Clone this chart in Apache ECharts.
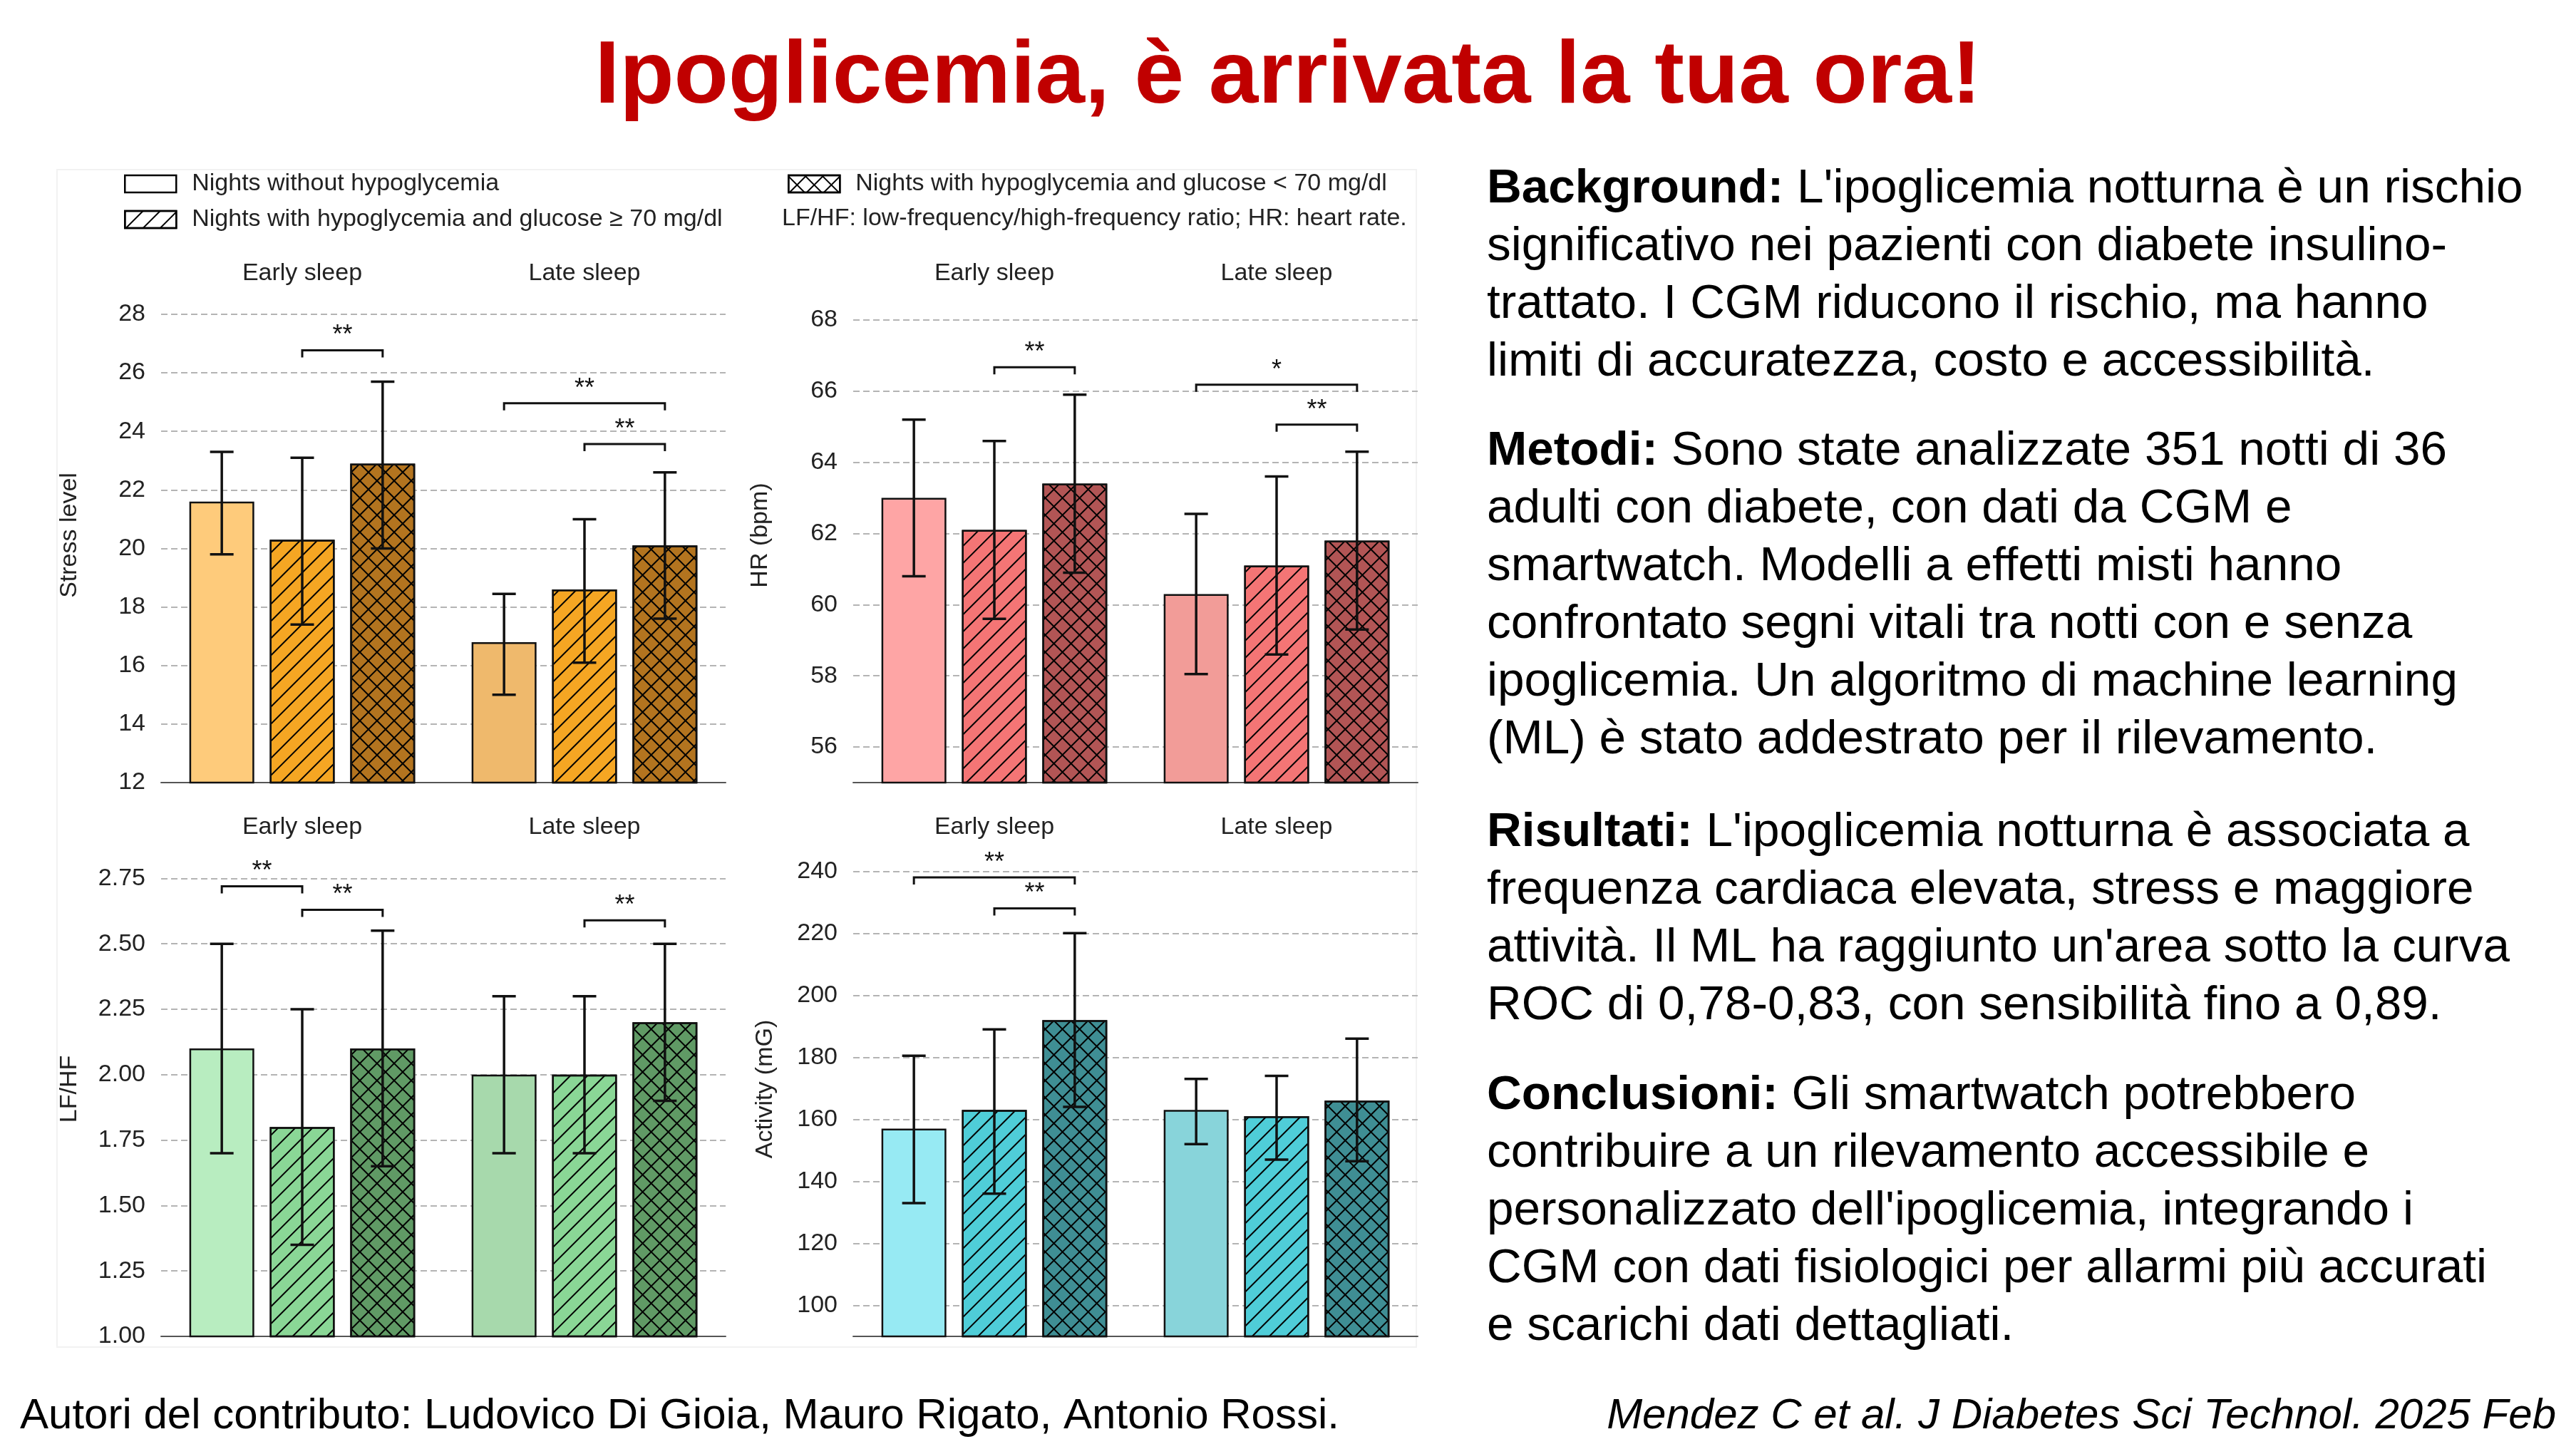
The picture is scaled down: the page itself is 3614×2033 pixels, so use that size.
<!DOCTYPE html>
<html><head><meta charset="utf-8">
<script src="https://cdn.jsdelivr.net/npm/echarts@6/dist/echarts.min.js"></script>
<style>html,body{margin:0;padding:0;background:#fff}#c{width:3614px;height:2033px}</style>
</head><body><div id="c"></div>
<script>
// ---------------- DATA ----------------
const categories = ['Early sleep', 'Late sleep'];
const groupNames = ['Nights without hypoglycemia', 'Nights with hypoglycemia and glucose \u2265 70 mg/dl', 'Nights with hypoglycemia and glucose < 70 mg/dl'];

// [group][category]
const stressMean = [[21.6, 16.8], [20.3, 18.6], [22.9, 20.1]];
const stressLow  = [[19.8, 15.0], [17.4, 16.1], [20.0, 17.6]];
const stressHigh = [[23.3, 18.45], [23.1, 21.0], [25.7, 22.6]];
const stressSig  = [[0, 1, 2, 26.77, '**'], [1, 0, 2, 24.96, '**'], [1, 1, 2, 23.57, '**']];
const stressTicks = [12, 14, 16, 18, 20, 22, 24, 26, 28];

const hrMean = [[63.0, 60.3], [62.1, 61.1], [63.4, 61.8]];
const hrLow  = [[60.8, 58.05], [59.6, 58.6], [60.9, 59.3]];
const hrHigh = [[65.2, 62.55], [64.6, 63.6], [65.9, 64.3]];
const hrSig  = [[0, 1, 2, 66.67, '**'], [1, 0, 2, 66.18, '*'], [1, 1, 2, 65.06, '**']];
const hrTicks = [56, 58, 60, 62, 64, 66, 68];

const lfMean = [[2.10, 2.00], [1.80, 2.00], [2.10, 2.20]];
const lfLow  = [[1.70, 1.70], [1.35, 1.70], [1.65, 1.90]];
const lfHigh = [[2.50, 2.30], [2.25, 2.30], [2.55, 2.50]];
const lfSig  = [[0, 0, 1, 2.72, '**'], [0, 1, 2, 2.63, '**'], [1, 1, 2, 2.59, '**']];
const lfTicks = [1.00, 1.25, 1.50, 1.75, 2.00, 2.25, 2.50, 2.75];

const actMean = [[157, 163], [163, 161], [192, 166]];
const actLow  = [[133, 152], [136, 147], [164, 146.5]];
const actHigh = [[180.5, 173], [189, 174], [220, 186]];
const actSig  = [[0, 0, 2, 238, '**'], [0, 1, 2, 228, '**']];
const actTicks = [100, 120, 140, 160, 180, 200, 220, 240];

// ---------------- STYLE ----------------
const FF = 'Liberation Sans, Arial, Helvetica, sans-serif';
const BAR_W = 91, BAR_GAP = 0.24, STEP = BAR_W * (1 + BAR_GAP);
const stressColors = [['#FECB7B', '#EFB96C'], ['#F5A623', '#F5A623'], ['#B3741F', '#B3741F']];
const hrColors     = [['#FEA5A5', '#F29C98'], ['#F47575', '#F47575'], ['#B25555', '#B25555']];
const lfColors     = [['#B8EDC0', '#A7D9AC'], ['#8AD796', '#8AD796'], ['#609A65', '#609A65']];
const actColors    = [['#97EAF3', '#88D4DA'], ['#4FCDD8', '#4FCDD8'], ['#3F8E94', '#3F8E94']];

const decalDiag  = {symbol: 'rect', symbolSize: 1, dashArrayX: [2, 15], dashArrayY: [1, 0], rotation: Math.PI / 4, color: '#000'};
const decalCross = {symbol: 'rect', symbolSize: 1, dashArrayX: [[1, 0], [2, 15]], dashArrayY: [2, 0, 15, 0], rotation: Math.PI / 4, color: '#000'};
const decals = [null, decalDiag, decalCross];

const panels = [
  {mean: stressMean, low: stressLow, high: stressHigh, sig: stressSig, ticks: stressTicks, min: 12, max: 28.9, name: 'Stress level', nameGap: 111, colors: stressColors, left: 226, top: 404, fmt: v => String(v)},
  {mean: hrMean, low: hrLow, high: hrHigh, sig: hrSig, ticks: hrTicks, min: 55, max: 68.9, name: 'HR (bpm)', nameGap: 113, colors: hrColors, left: 1197, top: 404, fmt: v => String(v)},
  {mean: lfMean, low: lfLow, high: lfHigh, sig: lfSig, ticks: lfTicks, min: 1, max: 2.89, name: 'LF/HF', nameGap: 111, colors: lfColors, left: 226, top: 1181, fmt: v => Number(v).toFixed(2)},
  {mean: actMean, low: actLow, high: actHigh, sig: actSig, ticks: actTicks, min: 90, max: 249.5, name: 'Activity (mG)', nameGap: 106, colors: actColors, left: 1197, top: 1181, fmt: v => String(v)}
];

const grids = [], xAxes = [], yAxes = [], series = [];
panels.forEach((p, i) => {
  grids.push({left: p.left, top: p.top, width: 792, height: 694});
  xAxes.push({type: 'category', gridIndex: i, data: categories, position: 'bottom',
    axisLine: {show: true, lineStyle: {color: '#555', width: 2}}, axisTick: {show: false}, axisLabel: {show: false}, splitLine: {show: false}});
  xAxes.push({type: 'category', gridIndex: i, data: categories, position: 'top',
    axisLine: {show: false}, axisTick: {show: false}, splitLine: {show: false},
    axisLabel: {show: true, fontSize: 34, color: '#222', fontFamily: FF, margin: 20, verticalAlign: 'middle'}});
  yAxes.push({type: 'value', gridIndex: i, min: p.min, max: p.max,
    name: p.name, nameLocation: 'middle', nameGap: p.nameGap,
    nameTextStyle: {fontSize: 34, color: '#222', fontFamily: FF},
    axisLine: {show: false}, axisTick: {show: false, customValues: p.ticks},
    axisLabel: {customValues: p.ticks, formatter: p.fmt, fontSize: 34, color: '#222', margin: 22, fontFamily: FF},
    splitLine: {show: true, lineStyle: {color: '#b4b4b4', width: 2, type: [9, 5]}}});
  for (let g = 0; g < 3; g++) {
    series.push({type: 'bar', name: 'p' + i + 'g' + g, xAxisIndex: 2 * i, yAxisIndex: i,
      barWidth: BAR_W, barGap: (BAR_GAP * 100) + '%', silent: true,
      itemStyle: {borderColor: '#111', borderWidth: 2.5, decal: decals[g] || undefined},
      data: p.mean[g].map((v, c) => ({value: v, itemStyle: {color: p.colors[g][c]}}))});
  }
  const errData = [];
  for (let g = 0; g < 3; g++) for (let c = 0; c < 2; c++) errData.push([c, g, p.low[g][c], p.high[g][c]]);
  series.push({type: 'custom', name: 'err' + i, xAxisIndex: 2 * i, yAxisIndex: i, z: 5, silent: true,
    encode: {x: 0, y: [2, 3]}, data: errData,
    renderItem: function (params, api) {
      const c = api.value(0), g = api.value(1);
      const lo = api.coord([c, api.value(2)]), hi = api.coord([c, api.value(3)]);
      const x = lo[0] + (g - 1) * STEP, half = 16.5;
      const st = {stroke: '#111', lineWidth: 3.5};
      return {type: 'group', children: [
        {type: 'line', shape: {x1: x, y1: lo[1], x2: x, y2: hi[1]}, style: st},
        {type: 'line', shape: {x1: x - half, y1: lo[1], x2: x + half, y2: lo[1]}, style: st},
        {type: 'line', shape: {x1: x - half, y1: hi[1], x2: x + half, y2: hi[1]}, style: st}
      ]};
    }});
  const sig = p.sig;
  series.push({type: 'custom', name: 'sig' + i, xAxisIndex: 2 * i, yAxisIndex: i, z: 6, silent: true,
    encode: {x: 0, y: 3}, data: sig.map(s => [s[0], s[1], s[2], s[3]]),
    renderItem: function (params, api) {
      const s = sig[params.dataIndex];
      const pt = api.coord([api.value(0), api.value(3)]);
      const x1 = pt[0] + (api.value(1) - 1) * STEP, x2 = pt[0] + (api.value(2) - 1) * STEP, y = pt[1];
      return {type: 'group', children: [
        {type: 'polyline', shape: {points: [[x1, y + 10], [x1, y], [x2, y], [x2, y + 10]]}, style: {stroke: '#111', lineWidth: 3, fill: null}},
        {type: 'text', x: (x1 + x2) / 2, y: y - 20, style: {text: s[4], fontSize: 36, fill: '#111', align: 'center', verticalAlign: 'middle', fontFamily: FF}}
      ]};
    }});
});

// hidden grid for legend patches
grids.push({left: 0, top: 0, width: 1, height: 1, show: false});
xAxes.push({type: 'category', gridIndex: 4, show: false, data: ['x']});
yAxes.push({type: 'value', gridIndex: 4, show: false});
groupNames.forEach((n, g) => {
  series.push({type: 'bar', name: n, xAxisIndex: 8, yAxisIndex: 4, data: [],
    itemStyle: {color: '#fff', borderColor: '#000', borderWidth: 2.5, decal: decals[g] || undefined}});
});

const legendCommon = {orient: 'vertical', icon: 'rect', itemWidth: 72, itemHeight: 24, itemGap: 16,
  selectedMode: false, itemStyle: {borderColor: '#000', borderWidth: 2.5},
  textStyle: {fontSize: 34, color: '#222', fontFamily: FF, padding: [0, 0, 0, 17]}};

const para = (top, lines) => ({
  type: 'text', left: 2086, top: top,
  style: {text: lines.join('\n'), fontSize: 67.5, lineHeight: 81, fill: '#000', fontFamily: FF,
    rich: {b: {fontSize: 67.5, lineHeight: 81, fontWeight: 'bold', fill: '#000', fontFamily: FF},
           n: {fontSize: 67.5, lineHeight: 81, fill: '#000', fontFamily: FF}}}
});

const option = {
  backgroundColor: '#fff',
  animation: false,
  grid: grids, xAxis: xAxes, yAxis: yAxes, series: series,
  legend: [
    Object.assign({}, legendCommon, {left: 169, top: 236, data: [groupNames[0], groupNames[1]]}),
    Object.assign({}, legendCommon, {left: 1100, top: 236, data: [groupNames[2]]})
  ],
  graphic: [
    {type: 'rect', shape: {x: 80, y: 238, width: 1907, height: 1652}, style: {fill: null, stroke: '#f2f2f2', lineWidth: 2}, z: -10},
    {type: 'text', x: 1807, y: 110, style: {text: 'Ipoglicemia, \u00e8 arrivata la tua ora!', fontSize: 125, fontWeight: 'bold', fill: '#C00000', align: 'center', verticalAlign: 'middle', fontFamily: FF}},
    {type: 'text', x: 1097, y: 307, style: {text: 'LF/HF: low-frequency/high-frequency ratio; HR: heart rate.', fontSize: 34, fill: '#222', verticalAlign: 'middle', fontFamily: FF}},
    para(225, [
      '{b|Background:}{n| L\'ipoglicemia notturna \u00e8 un rischio}',
      '{n|significativo nei pazienti con diabete insulino-}',
      '{n|trattato. I CGM riducono il rischio, ma hanno}',
      '{n|limiti di accuratezza, costo e accessibilit\u00e0.}']),
    para(593, [
      '{b|Metodi:}{n| Sono state analizzate 351 notti di 36}',
      '{n|adulti con diabete, con dati da CGM e}',
      '{n|smartwatch. Modelli a effetti misti hanno}',
      '{n|confrontato segni vitali tra notti con e senza}',
      '{n|ipoglicemia. Un algoritmo di machine learning}',
      '{n|(ML) \u00e8 stato addestrato per il rilevamento.}']),
    para(1128, [
      '{b|Risultati:}{n| L\'ipoglicemia notturna \u00e8 associata a}',
      '{n|frequenza cardiaca elevata, stress e maggiore}',
      '{n|attivit\u00e0. Il ML ha raggiunto un\'area sotto la curva}',
      '{n|ROC di 0,78-0,83, con sensibilit\u00e0 fino a 0,89.}']),
    para(1497, [
      '{b|Conclusioni:}{n| Gli smartwatch potrebbero}',
      '{n|contribuire a un rilevamento accessibile e}',
      '{n|personalizzato dell\'ipoglicemia, integrando i}',
      '{n|CGM con dati fisiologici per allarmi pi\u00f9 accurati}',
      '{n|e scarichi dati dettagliati.}']),
    {type: 'text', x: 28, y: 1987, style: {text: 'Autori del contributo: Ludovico Di Gioia, Mauro Rigato, Antonio Rossi.', fontSize: 60, fill: '#000', verticalAlign: 'middle', fontFamily: FF}},
    {type: 'text', x: 3586, y: 1987, style: {text: 'Mendez C et al. J Diabetes Sci Technol. 2025 Feb', fontSize: 60, fontStyle: 'italic', fill: '#000', align: 'right', verticalAlign: 'middle', fontFamily: FF}}
  ]
};

const chart = echarts.init(document.getElementById('c'));
chart.setOption(option);
</script></body></html>
